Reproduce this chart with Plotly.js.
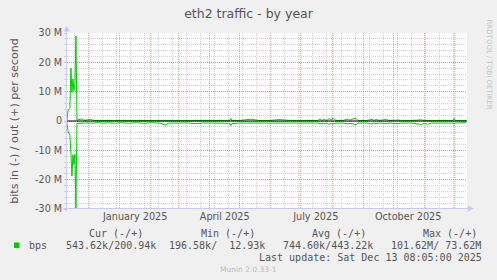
<!DOCTYPE html>
<html><head><meta charset="utf-8">
<script src="https://cdn.plot.ly/plotly-3.0.1.min.js"></script>
<style>html,body{margin:0;padding:0;background:#f0f0f0;}#chart{width:497px;height:280px;}</style>
</head><body><div id="chart"></div>
<script>
// ---- data ----
const dates = [
 '2024-11-09 14:00','2024-11-10 12:00','2024-11-11 12:00','2024-11-12 12:00','2024-11-13 12:00',
 '2024-11-14 12:00','2024-11-15 12:00','2024-11-16 12:00','2024-11-17 12:00','2024-11-18 12:00',
 '2024-11-19 12:00','2024-11-24','2024-11-27','2024-12-03','2024-12-06','2024-12-11','2024-12-15',
 '2024-12-20','2024-12-27','2025-01-03','2025-01-10','2025-01-18','2025-01-25','2025-02-02',
 '2025-02-10','2025-02-16','2025-02-19','2025-03-01','2025-03-10','2025-03-18','2025-03-25',
 '2025-04-05','2025-04-15','2025-04-21','2025-04-22','2025-04-23','2025-05-01','2025-05-12',
 '2025-05-20','2025-06-01','2025-06-09','2025-06-20','2025-07-05','2025-07-18','2025-07-20',
 '2025-07-22','2025-07-24','2025-07-27','2025-07-29','2025-07-31','2025-08-01','2025-08-03',
 '2025-08-05','2025-08-12','2025-08-17','2025-08-19','2025-08-22','2025-08-25','2025-08-27',
 '2025-09-05','2025-09-10','2025-09-12','2025-09-14','2025-09-17','2025-09-24','2025-09-27',
 '2025-10-06','2025-10-09','2025-10-20','2025-10-29','2025-11-01','2025-11-05','2025-11-08',
 '2025-11-20','2025-11-30','2025-12-01','2025-12-02','2025-12-13'
];
// out (+), bits per second
const outBps = [
 0.3e6,3.4e6,4.0e6,4.6e6,18.0e6,9.7e6,14.3e6,10.3e6,12.5e6,29.0e6,
 0.3e6,0.7e6,0.2e6,0.6e6,0.2e6,0.25e6,0.2e6,
 0.2e6,0.2e6,0.2e6,0.2e6,0.2e6,0.2e6,0.2e6,
 0.2e6,0.2e6,0.2e6,0.2e6,0.2e6,0.3e6,0.2e6,
 0.2e6,0.2e6,0.2e6,0.9e6,0.2e6,0.2e6,0.6e6,
 0.2e6,0.2e6,0.5e6,0.2e6,0.2e6,0.2e6,0.7e6,
 0.2e6,0.5e6,0.2e6,0.8e6,0.4e6,0.8e6,0.7e6,
 0.2e6,0.2e6,0.7e6,0.3e6,0.7e6,0.9e6,0.2e6,
 0.2e6,0.6e6,0.2e6,0.5e6,0.2e6,0.5e6,0.2e6,
 0.3e6,0.2e6,0.2e6,0.4e6,0.2e6,0.3e6,0.2e6,
 0.2e6,0.2e6,0.9e6,0.2e6,0.2e6
];
// in (-), plotted below zero, bits per second
const inBps = [
 -0.5e6,-3.5e6,-4.2e6,-4.8e6,-11.0e6,-18.8e6,-11.5e6,-14.8e6,-11.4e6,-29.8e6,
 -0.8e6,-0.6e6,-0.7e6,-0.7e6,-0.75e6,-0.5e6,-0.75e6,
 -0.6e6,-0.75e6,-0.6e6,-0.75e6,-0.6e6,-0.75e6,-0.6e6,
 -0.7e6,-1.4e6,-0.7e6,-0.7e6,-0.65e6,-0.9e6,-0.7e6,
 -0.7e6,-0.7e6,-0.8e6,-1.6e6,-0.9e6,-0.7e6,-0.7e6,
 -0.7e6,-0.7e6,-0.7e6,-0.7e6,-0.7e6,-0.7e6,-1.0e6,
 -0.7e6,-0.9e6,-0.7e6,-1.1e6,-0.8e6,-1.1e6,-1.0e6,
 -0.7e6,-0.7e6,-1.0e6,-0.8e6,-1.0e6,-1.2e6,-0.7e6,
 -0.7e6,-1.0e6,-0.7e6,-0.9e6,-0.7e6,-0.8e6,-0.7e6,
 -0.9e6,-0.7e6,-0.7e6,-1.2e6,-0.8e6,-1.1e6,-0.7e6,
 -0.7e6,-0.7e6,-1.1e6,-0.7e6,-0.54e6
];
const yTickVals = [30e6,20e6,10e6,0,-10e6,-20e6,-30e6];
const yTickText = ['30 M','20 M','10 M','0','-10 M','-20 M','-30 M'];
const xLabelDates = ['2025-01-16 15:00','2025-04-16','2025-07-15 19:00','2025-10-16'];
const xLabelText = ['January 2025','April 2025','July 2025','October 2025'];
const xRange = ['2024-11-09 14:00','2025-12-13 17:00'];
const seriesName = 'bps';
const statHeaders = ['Cur (-/+)','Min (-/+)','Avg (-/+)','Max (-/+)'];
const statValues = ['543.62k/200.94k','196.58k/  12.93k','744.60k/443.22k','101.62M/ 73.62M'];
const lastUpdate = 'Last update: Sat Dec 13 08:05:00 2025';
const versionText = 'Munin 2.0.33-1';
const watermark = 'RRDTOOL / TOBI OETIKER';
const chartTitle = 'eth2 traffic - by year';
const yTitle = 'bits in (-) / out (+) per second';

// ---- layout geometry ----
const W = 497, H = 280, L = 67, R = 467, T = 33, B = 209;
const px = p => (p - L) / (R - L);
const py = p => (B - p) / (B - T);
const green = '#00cc00';
const red = 'rgba(255,70,70,0.5)';
const gray = '#d2d2d2';
const axisCol = '#c8c8f4';
const nb = s => s.replace(/ /g, '\u00a0');

const traces = [
  {x: dates, y: outBps, type: 'scatter', mode: 'lines', line: {color: green, width: 1}, hoverinfo: 'skip', name: seriesName},
  {x: dates, y: inBps, type: 'scatter', mode: 'lines', line: {color: green, width: 1}, hoverinfo: 'skip', name: seriesName},
  {x: [], y: [], type: 'scatter', xaxis: 'x2', yaxis: 'y', hoverinfo: 'skip'}
];

const mono = {family: 'DejaVu Sans Mono', size: 10, color: '#555'};
const annotations = [];
const headerCenters = [116, 227.7, 339, 450];
const valueRights = [158.3, 266.7, 375, 483.3];
statHeaders.forEach((h, i) => annotations.push({text: nb(h), xref: 'paper', yref: 'paper', x: px(headerCenters[i]), y: py(233.3), xanchor: 'center', yanchor: 'middle', showarrow: false, font: mono}));
statValues.forEach((v, i) => annotations.push({text: nb(v), xref: 'paper', yref: 'paper', x: px(valueRights[i]), y: py(245.3), xanchor: 'right', yanchor: 'middle', showarrow: false, font: mono}));
annotations.push({text: seriesName, xref: 'paper', yref: 'paper', x: px(26.5), y: py(245.3), xanchor: 'left', yanchor: 'middle', showarrow: false, font: mono});
annotations.push({text: nb(lastUpdate), xref: 'paper', yref: 'paper', x: px(483.5), y: py(257.7), xanchor: 'right', yanchor: 'middle', showarrow: false, font: mono});
annotations.push({text: versionText, xref: 'paper', yref: 'paper', x: px(248.5), y: py(269.3), xanchor: 'center', yanchor: 'middle', showarrow: false, font: {family: 'DejaVu Sans', size: 7.5, color: '#bbbbbb'}});
annotations.push({text: watermark, xref: 'paper', yref: 'paper', x: px(489), y: py(64.5), xanchor: 'center', yanchor: 'middle', textangle: 90, showarrow: false, font: {family: 'DejaVu Sans', size: 7, color: '#c4c4c4'}});

const shapes = [
  {type: 'line', xref: 'paper', yref: 'y', x0: 0, x1: 1, y0: 0, y1: 0, line: {color: '#000', width: 1}, layer: 'above'},
  {type: 'line', xref: 'paper', yref: 'paper', x0: px(66.7), x1: px(66.7), y0: py(211), y1: py(29), line: {color: axisCol, width: 1}, layer: 'above'},
  {type: 'line', xref: 'paper', yref: 'paper', x0: px(63), x1: px(470), y0: py(208.5), y1: py(208.5), line: {color: axisCol, width: 1}, layer: 'above'},
  {type: 'path', xref: 'paper', yref: 'paper', path: `M ${px(63.7)} ${py(31.5)} L ${px(69.7)} ${py(31.5)} L ${px(66.7)} ${py(26)} Z`, fillcolor: axisCol, line: {width: 0}, layer: 'above'},
  {type: 'path', xref: 'paper', yref: 'paper', path: `M ${px(468)} ${py(205.5)} L ${px(468)} ${py(211.5)} L ${px(473.5)} ${py(208.5)} Z`, fillcolor: axisCol, line: {width: 0}, layer: 'above'},
  {type: 'rect', xref: 'paper', yref: 'paper', x0: px(14), x1: px(19.5), y0: py(242.5), y1: py(248), fillcolor: green, line: {width: 0}}
];

const layout = {
  width: W, height: H,
  margin: {l: L, r: W - R, t: T, b: H - B, pad: 0},
  paper_bgcolor: '#f0f0f0', plot_bgcolor: '#ffffff',
  font: {family: 'DejaVu Sans', color: '#555', size: 9.7},
  showlegend: false,
  title: {text: chartTitle, font: {size: 12.5, color: '#555'}, x: 0.5, xref: 'container', xanchor: 'center', y: 1 - 13.5 / H, yref: 'container', yanchor: 'middle'},
  xaxis: {type: 'date', range: xRange, tickmode: 'linear', dtick: 'M1', tick0: '2024-12-01',
    showgrid: true, gridcolor: red, griddash: '1px,1px', gridwidth: 1,
    showticklabels: false, ticks: '', zeroline: false, showline: false,
    minor: {tickmode: 'linear', dtick: 14 * 86400000, tick0: '2024-11-17', showgrid: true, gridcolor: gray, griddash: '1px,1px', ticks: ''}},
  xaxis2: {type: 'date', overlaying: 'x', range: xRange, tickmode: 'array', tickvals: xLabelDates, ticktext: xLabelText,
    showgrid: false, ticks: '', zeroline: false, showline: false, side: 'bottom', tickfont: {size: 9.7, color: '#555'}},
  yaxis: {range: [-30e6, 30e6], tickmode: 'array', tickvals: yTickVals, ticktext: yTickText,
    showgrid: true, gridcolor: red, griddash: '1px,1px', gridwidth: 1, zeroline: false, showline: false,
    ticks: 'outside', ticklen: 2, tickcolor: '#c8c8c8', tickfont: {size: 9.6, color: '#555'},
    minor: {tickmode: 'linear', tick0: 0, dtick: 2e6, showgrid: true, gridcolor: gray, griddash: '1px,1px', ticks: 'outside', ticklen: 2, tickcolor: '#d0d0d0'},
    title: {text: yTitle, font: {size: 11.1, color: '#555'}, standoff: 14}},
  shapes: shapes,
  annotations: annotations
};

Plotly.newPlot('chart', traces, layout, {staticPlot: true, displayModeBar: false});
</script>
</body></html>
